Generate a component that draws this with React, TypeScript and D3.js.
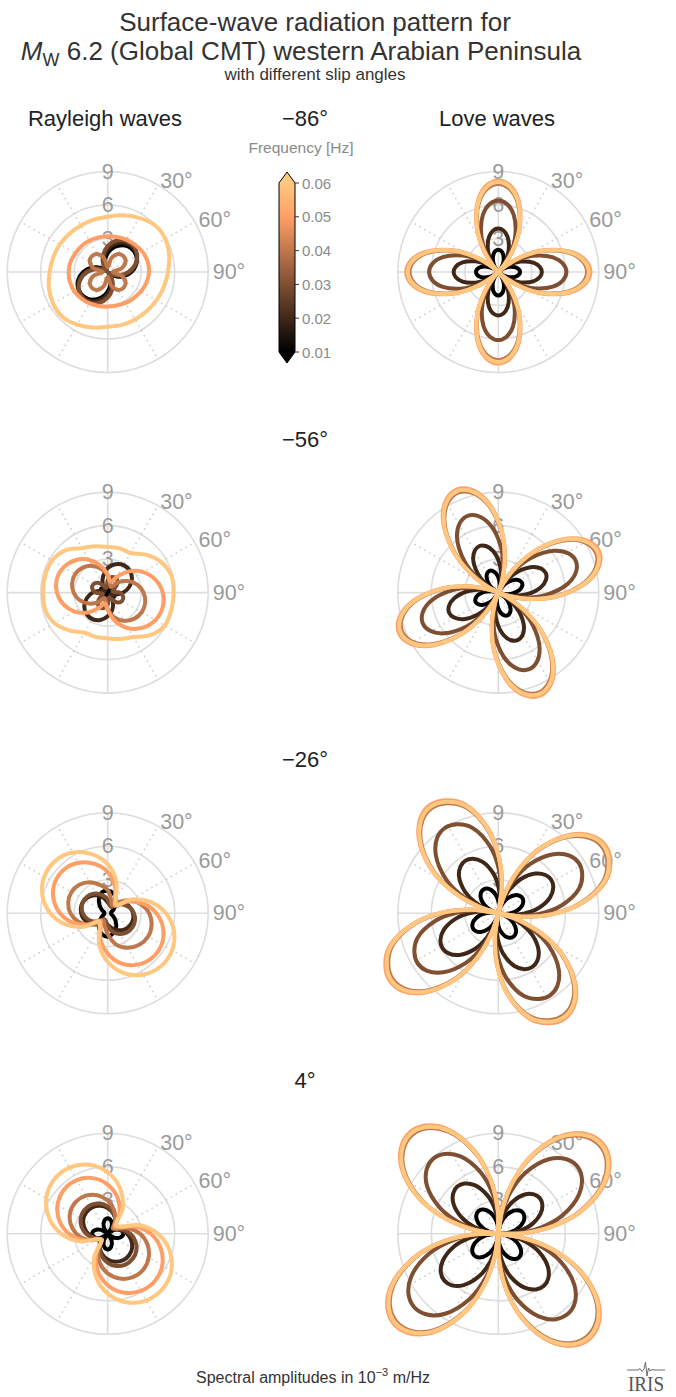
import React from 'react';
import * as d3 from 'd3';

// Frequencies drawn in every panel (Hz) and the slip angles of the four rows
const frequencies = [0.01, 0.02, 0.03, 0.04, 0.05, 0.06];
const slipAngles = [-86, -56, -26, 4];
const ringTicks = [3, 6, 9];
const angleTickLabels = [30, 60, 90];
const gridAngles = [0, 30, 60, 90, 120, 150, 180, 210, 240, 270, 300, 330];
const colorbarTicks = [0.01, 0.02, 0.03, 0.04, 0.05, 0.06];

// Azimuths (deg, clockwise from north) of the Rayleigh amplitude samples
const rayleighAzimuth = [0, 15, 30, 45, 60, 75, 90, 105, 120, 135, 150, 165, 180, 195, 210, 225, 240, 255, 270, 285, 300, 315, 330, 345];

// Azimuths of the Love amplitude samples, one set per slip angle (denser near lobe tips and nodes)
const loveAzimuthSlipM86 = [-45, -40, -33, -25, -15, -7, 0, 7, 15, 25, 33, 40, 45, 50, 57, 65, 75, 83, 90, 97, 105, 115, 123, 130, 135, 140, 147, 155, 165, 173, 180, 187, 195, 205, 213, 220, 225, 230, 237, 245, 255, 263, 270, 277, 285, 295, 303, 310];
const loveAzimuthSlipM56 = [-67, -62, -55, -47, -37, -29, -22, -15, -7, 3, 11, 18, 23, 28, 35, 43, 53, 61, 68, 75, 83, 93, 101, 108, 113, 118, 125, 133, 143, 151, 158, 165, 173, 183, 191, 198, 203, 208, 215, 223, 233, 241, 248, 255, 263, 273, 281, 288];
const loveAzimuthSlipM26 = [-77, -72, -65, -57, -47, -39, -32, -25, -17, -7, 1, 8, 13, 18, 25, 33, 43, 51, 58, 65, 73, 83, 91, 98, 103, 108, 115, 123, 133, 141, 148, 155, 163, 173, 181, 188, 193, 198, 205, 213, 223, 231, 238, 245, 253, 263, 271, 278];
const loveAzimuthSlip4 = [-86, -81, -74, -66, -56, -48, -41, -34, -26, -16, -8, -1, 4, 9, 16, 24, 34, 42, 49, 56, 64, 74, 82, 89, 94, 99, 106, 114, 124, 132, 139, 146, 154, 164, 172, 179, 184, 189, 196, 204, 214, 222, 229, 236, 244, 254, 262, 269];

// Rayleigh spectral amplitudes (10^-3 m/Hz), one row per frequency
const rayleighSlipM86 = [
  [1.69, 2.31, 2.77, 2.99, 2.94, 2.64, 2.12, 1.46, 0.74, 0.13, 0.32, 1.01, 1.75, 2.39, 2.86, 3.08, 3.04, 2.73, 2.19, 1.51, 0.77, 0.13, 0.31, 0.98],
  [2.01, 2.61, 3.01, 3.15, 3.01, 2.61, 2.01, 1.28, 0.54, 0.1, 0.54, 1.28, 2.01, 2.61, 3.01, 3.15, 3.01, 2.61, 2.01, 1.28, 0.54, 0.1, 0.54, 1.28],
  [2.33, 2.9, 3.23, 3.28, 3.05, 2.54, 1.86, 1.08, 0.34, 0.14, 0.82, 1.6, 2.3, 2.86, 3.19, 3.23, 3.0, 2.51, 1.83, 1.06, 0.33, 0.14, 0.81, 1.58],
  [0.45, 1.3, 1.85, 2.0, 1.85, 1.3, 0.45, 1.3, 1.85, 2.0, 1.85, 1.3, 0.45, 1.3, 1.85, 2.0, 1.85, 1.3, 0.45, 1.3, 1.85, 2.0, 1.85, 1.3],
  [3.2, 3.25, 3.35, 3.45, 3.6, 3.7, 3.7, 3.6, 3.45, 3.3, 3.2, 3.1, 3.1, 3.15, 3.25, 3.35, 3.45, 3.5, 3.5, 3.45, 3.35, 3.3, 3.25, 3.2],
  [4.95, 5.25, 5.6, 5.95, 5.95, 5.7, 5.4, 5.2, 5.05, 4.95, 4.9, 4.9, 4.9, 5.15, 5.45, 5.7, 5.65, 5.45, 5.2, 5.05, 4.95, 4.85, 4.8, 4.85],
];
const rayleighSlipM56 = [
  [0.29, 0.58, 0.7, 0.58, 0.29, 0, 0.29, 0.58, 0.7, 0.58, 0.29, 0, 0.29, 0.58, 0.7, 0.58, 0.29, 0, 0.29, 0.58, 0.7, 0.58, 0.29, 0],
  [2.2, 2.63, 2.84, 2.79, 2.51, 2.01, 1.39, 0.71, 0.3, 0.4, 0.93, 1.6, 2.12, 2.54, 2.74, 2.7, 2.42, 1.94, 1.34, 0.68, 0.3, 0.4, 0.9, 1.55],
  [1.1, 1.44, 1.49, 1.25, 0.71, 0.44, 1.1, 1.44, 1.49, 1.25, 0.71, 0.44, 1.1, 1.44, 1.49, 1.25, 0.71, 0.44, 1.1, 1.44, 1.49, 1.25, 0.71, 0.44],
  [1.56, 0.79, 0.58, 1.3, 2.06, 2.73, 3.21, 3.48, 3.52, 3.33, 2.91, 2.3, 1.48, 0.75, 0.55, 1.24, 1.96, 2.6, 3.05, 3.3, 3.35, 3.16, 2.76, 2.19],
  [1.64, 1.0, 1.64, 2.69, 3.68, 4.44, 4.93, 5.1, 4.93, 4.44, 3.68, 2.69, 1.56, 1.0, 1.56, 2.51, 3.4, 4.1, 4.55, 4.71, 4.55, 4.1, 3.4, 2.51],
  [4.1, 4.1, 4.1, 4.8, 5.5, 5.9, 5.9, 5.9, 5.9, 5.4, 4.6, 4.3, 4.1, 4.1, 4.15, 4.8, 5.5, 5.8, 5.8, 5.8, 5.75, 5.35, 4.6, 4.3],
];
const rayleighSlipM26 = [
  [2.0, 1.87, 1.5, 1.0, 0.58, 0.33, 0.3, 0.33, 0.58, 1.0, 1.5, 1.87, 2.1, 1.95, 1.56, 1.04, 0.6, 0.33, 0.3, 0.33, 0.6, 1.04, 1.56, 1.95],
  [0.98, 0.8, 0.98, 1.36, 1.75, 2.07, 2.27, 2.34, 2.27, 2.07, 1.75, 1.36, 1.03, 0.84, 1.03, 1.43, 1.84, 2.17, 2.38, 2.46, 2.38, 2.17, 1.84, 1.43],
  [1.22, 0.74, 0.64, 1.05, 1.55, 2.01, 2.35, 2.53, 2.56, 2.43, 2.14, 1.72, 1.16, 0.7, 0.61, 1.0, 1.47, 1.91, 2.23, 2.4, 2.43, 2.31, 2.03, 1.63],
  [2.08, 1.22, 0.81, 1.44, 2.31, 3.1, 3.71, 4.07, 4.18, 4.0, 3.57, 2.91, 1.87, 1.1, 0.73, 1.3, 2.08, 2.79, 3.34, 3.66, 3.76, 3.6, 3.21, 2.62],
  [3.69, 2.5, 1.26, 0.94, 2.08, 3.31, 4.36, 5.13, 5.58, 5.64, 5.32, 4.66, 3.62, 2.45, 1.24, 0.93, 2.04, 3.24, 4.27, 5.03, 5.47, 5.53, 5.21, 4.57],
  [4.4, 2.97, 1.47, 1.07, 2.46, 3.95, 5.21, 6.14, 6.66, 6.73, 6.36, 5.56, 4.35, 2.93, 1.45, 1.06, 2.43, 3.9, 5.14, 6.05, 6.56, 6.63, 6.27, 5.48],
];
const rayleighSlip4 = [
  [1.4, 1.2, 0.7, 0.15, 0.7, 1.2, 1.4, 1.2, 0.7, 0.15, 0.7, 1.2, 1.4, 1.2, 0.7, 0.15, 0.7, 1.2, 1.4, 1.2, 0.7, 0.15, 0.7, 1.2],
  [2.31, 1.9, 1.42, 1.01, 0.93, 1.27, 1.74, 2.18, 2.53, 2.71, 2.74, 2.6, 2.31, 1.9, 1.42, 1.01, 0.93, 1.27, 1.74, 2.18, 2.53, 2.71, 2.74, 2.6],
  [2.45, 1.96, 1.38, 0.9, 0.89, 1.41, 2.03, 2.57, 2.97, 3.17, 3.18, 2.98, 2.6, 2.07, 1.45, 0.91, 0.87, 1.35, 1.92, 2.42, 2.79, 2.98, 2.99, 2.81],
  [2.98, 2.2, 1.31, 0.65, 0.92, 1.93, 2.9, 3.69, 4.24, 4.52, 4.49, 4.15, 3.55, 2.72, 1.72, 0.76, 1.08, 1.97, 2.8, 3.44, 3.87, 4.04, 3.94, 3.58],
  [4.41, 3.37, 2.1, 0.85, 1.15, 2.54, 3.86, 4.91, 5.64, 5.98, 5.91, 5.44, 4.6, 3.44, 2.05, 0.72, 0.93, 2.19, 3.45, 4.47, 5.19, 5.56, 5.55, 5.16],
  [5.51, 4.25, 2.7, 1.08, 1.3, 2.96, 4.5, 5.73, 6.58, 6.97, 6.9, 6.34, 5.36, 4.0, 2.4, 0.79, 0.97, 2.59, 4.15, 5.44, 6.35, 6.83, 6.85, 6.4],
];

// Love spectral amplitudes (10^-3 m/Hz), one row per frequency
const loveSlipM86 = [
  [0, 0.21, 0.62, 1.13, 1.66, 1.92, 2.0, 1.92, 1.66, 1.13, 0.62, 0.21, 0, 0.2, 0.61, 1.1, 1.62, 1.87, 1.95, 1.87, 1.62, 1.1, 0.61, 0.2, 0, 0.22, 0.65, 1.18, 1.74, 2.02, 2.1, 2.02, 1.74, 1.18, 0.65, 0.22, 0, 0.21, 0.62, 1.13, 1.66, 1.92, 2.0, 1.92, 1.66, 1.13, 0.62, 0.21],
  [0, 0.4, 1.21, 2.2, 3.24, 3.75, 3.9, 3.75, 3.24, 2.2, 1.21, 0.4, 0, 0.4, 1.21, 2.2, 3.24, 3.75, 3.9, 3.75, 3.24, 2.2, 1.21, 0.4, 0, 0.4, 1.21, 2.2, 3.24, 3.75, 3.9, 3.75, 3.24, 2.2, 1.21, 0.4, 0, 0.41, 1.24, 2.25, 3.32, 3.84, 4.0, 3.84, 3.32, 2.25, 1.24, 0.41],
  [0, 0.66, 1.99, 3.6, 5.31, 6.15, 6.4, 6.15, 5.31, 3.6, 1.99, 0.66, 0, 0.63, 1.9, 3.43, 5.06, 5.86, 6.1, 5.86, 5.06, 3.43, 1.9, 0.63, 0, 0.63, 1.9, 3.43, 5.06, 5.86, 6.1, 5.86, 5.06, 3.43, 1.9, 0.63, 0, 0.64, 1.93, 3.49, 5.15, 5.96, 6.2, 5.96, 5.15, 3.49, 1.93, 0.64],
  [0, 0.81, 2.46, 4.45, 6.56, 7.59, 7.9, 7.59, 6.56, 4.45, 2.46, 0.81, 0, 0.82, 2.47, 4.48, 6.6, 7.64, 7.95, 7.64, 6.6, 4.48, 2.47, 0.82, 0, 0.81, 2.46, 4.45, 6.56, 7.59, 7.9, 7.59, 6.56, 4.45, 2.46, 0.81, 0, 0.82, 2.47, 4.48, 6.6, 7.64, 7.95, 7.64, 6.6, 4.48, 2.47, 0.82],
  [0, 0.84, 2.55, 4.62, 6.81, 7.88, 8.2, 7.88, 6.81, 4.62, 2.55, 0.84, 0, 0.85, 2.57, 4.64, 6.85, 7.93, 8.25, 7.93, 6.85, 4.64, 2.57, 0.85, 0, 0.84, 2.55, 4.62, 6.81, 7.88, 8.2, 7.88, 6.81, 4.62, 2.55, 0.84, 0, 0.85, 2.57, 4.64, 6.85, 7.93, 8.25, 7.93, 6.85, 4.64, 2.57, 0.85],
  [0, 0.83, 2.5, 4.53, 6.68, 7.74, 8.05, 7.74, 6.68, 4.53, 2.5, 0.83, 0, 0.83, 2.52, 4.56, 6.72, 7.78, 8.1, 7.78, 6.72, 4.56, 2.52, 0.83, 0, 0.83, 2.5, 4.53, 6.68, 7.74, 8.05, 7.74, 6.68, 4.53, 2.5, 0.83, 0, 0.83, 2.52, 4.56, 6.72, 7.78, 8.1, 7.78, 6.72, 4.56, 2.52, 0.83],
];
const loveSlipM56 = [
  [0, 0.22, 0.65, 1.18, 1.74, 2.02, 2.1, 2.02, 1.74, 1.18, 0.65, 0.22, 0, 0.24, 0.72, 1.29, 1.91, 2.21, 2.3, 2.21, 1.91, 1.29, 0.72, 0.24, 0, 0.23, 0.68, 1.24, 1.83, 2.11, 2.2, 2.11, 1.83, 1.24, 0.68, 0.23, 0, 0.23, 0.68, 1.24, 1.83, 2.11, 2.2, 2.11, 1.83, 1.24, 0.68, 0.23],
  [0, 0.46, 1.4, 2.53, 3.74, 4.32, 4.5, 4.32, 3.74, 2.53, 1.4, 0.46, 0, 0.47, 1.43, 2.59, 3.82, 4.42, 4.6, 4.42, 3.82, 2.59, 1.43, 0.47, 0, 0.47, 1.43, 2.59, 3.82, 4.42, 4.6, 4.42, 3.82, 2.59, 1.43, 0.47, 0, 0.49, 1.48, 2.68, 3.95, 4.57, 4.76, 4.57, 3.95, 2.68, 1.48, 0.49],
  [0, 0.76, 2.3, 4.17, 6.14, 7.11, 7.4, 7.11, 6.14, 4.17, 2.3, 0.76, 0, 0.77, 2.33, 4.22, 6.23, 7.21, 7.5, 7.21, 6.23, 4.22, 2.33, 0.77, 0, 0.76, 2.3, 4.17, 6.14, 7.11, 7.4, 7.11, 6.14, 4.17, 2.3, 0.76, 0, 0.75, 2.27, 4.11, 6.06, 7.02, 7.3, 7.02, 6.06, 4.11, 2.27, 0.75],
  [0, 0.99, 3.0, 5.43, 8.01, 9.27, 9.65, 9.27, 8.01, 5.43, 3.0, 0.99, 0, 0.97, 2.94, 5.32, 7.84, 9.08, 9.45, 9.08, 7.84, 5.32, 2.94, 0.97, 0, 0.99, 3.0, 5.43, 8.01, 9.27, 9.65, 9.27, 8.01, 5.43, 3.0, 0.99, 0, 0.96, 2.89, 5.24, 7.72, 8.94, 9.3, 8.94, 7.72, 5.24, 2.89, 0.96],
  [0, 1.02, 3.09, 5.6, 8.26, 9.56, 9.95, 9.56, 8.26, 5.6, 3.09, 1.02, 0, 1.0, 3.03, 5.49, 8.09, 9.37, 9.75, 9.37, 8.09, 5.49, 3.03, 1.0, 0, 1.02, 3.09, 5.6, 8.26, 9.56, 9.95, 9.56, 8.26, 5.6, 3.09, 1.02, 0, 0.99, 2.99, 5.4, 7.97, 9.23, 9.6, 9.23, 7.97, 5.4, 2.99, 0.99],
  [0, 1.01, 3.05, 5.52, 8.13, 9.42, 9.8, 9.42, 8.13, 5.52, 3.05, 1.01, 0, 0.99, 2.99, 5.4, 7.97, 9.23, 9.6, 9.23, 7.97, 5.4, 2.99, 0.99, 0, 1.01, 3.05, 5.52, 8.13, 9.42, 9.8, 9.42, 8.13, 5.52, 3.05, 1.01, 0, 0.97, 2.94, 5.32, 7.84, 9.08, 9.45, 9.08, 7.84, 5.32, 2.94, 0.97],
];
const loveSlipM26 = [
  [0, 0.44, 1.02, 1.61, 2.17, 2.43, 2.5, 2.43, 2.17, 1.61, 1.02, 0.44, 0, 0.44, 1.04, 1.64, 2.21, 2.47, 2.55, 2.47, 2.21, 1.64, 1.04, 0.44, 0, 0.44, 1.02, 1.61, 2.17, 2.43, 2.5, 2.43, 2.17, 1.61, 1.02, 0.44, 0, 0.46, 1.08, 1.7, 2.29, 2.57, 2.65, 2.57, 2.29, 1.7, 1.08, 0.46],
  [0, 0.97, 2.26, 3.57, 4.81, 5.38, 5.55, 5.38, 4.81, 3.57, 2.26, 0.97, 0, 0.97, 2.28, 3.6, 4.85, 5.43, 5.6, 5.43, 4.85, 3.6, 2.28, 0.97, 0, 0.99, 2.32, 3.67, 4.94, 5.53, 5.7, 5.53, 4.94, 3.67, 2.32, 0.99, 0, 1.03, 2.4, 3.79, 5.11, 5.72, 5.9, 5.72, 5.11, 3.79, 2.4, 1.03],
  [0, 1.35, 3.42, 5.58, 7.65, 8.69, 9.0, 8.78, 8.01, 6.03, 3.87, 1.8, 0, 1.28, 3.23, 5.27, 7.23, 8.2, 8.5, 8.29, 7.57, 5.7, 3.66, 1.7, 0, 1.31, 3.31, 5.39, 7.4, 8.4, 8.7, 8.48, 7.74, 5.83, 3.74, 1.74, 0, 1.28, 3.23, 5.27, 7.23, 8.2, 8.5, 8.29, 7.57, 5.7, 3.66, 1.7],
  [0, 1.67, 4.24, 6.91, 9.48, 10.76, 11.15, 10.87, 9.92, 7.47, 4.79, 2.23, 0, 1.66, 4.2, 6.85, 9.39, 10.66, 11.05, 10.77, 9.83, 7.4, 4.75, 2.21, 0, 1.63, 4.12, 6.73, 9.22, 10.47, 10.85, 10.58, 9.66, 7.27, 4.67, 2.17, 0, 1.67, 4.24, 6.91, 9.48, 10.76, 11.15, 10.87, 9.92, 7.47, 4.79, 2.23],
  [0, 1.72, 4.35, 7.1, 9.73, 11.05, 11.45, 11.16, 10.19, 7.67, 4.92, 2.29, 0, 1.7, 4.31, 7.04, 9.65, 10.95, 11.35, 11.07, 10.1, 7.6, 4.88, 2.27, 0, 1.67, 4.24, 6.91, 9.48, 10.76, 11.15, 10.87, 9.92, 7.47, 4.79, 2.23, 0, 1.72, 4.35, 7.1, 9.73, 11.05, 11.45, 11.16, 10.19, 7.67, 4.92, 2.29],
  [0, 1.7, 4.29, 7.01, 9.61, 10.9, 11.3, 11.02, 10.06, 7.57, 4.86, 2.26, 0, 1.68, 4.26, 6.94, 9.52, 10.81, 11.2, 10.92, 9.97, 7.5, 4.82, 2.24, 0, 1.65, 4.18, 6.82, 9.35, 10.62, 11.0, 10.73, 9.79, 7.37, 4.73, 2.2, 0, 1.7, 4.29, 7.01, 9.61, 10.9, 11.3, 11.02, 10.06, 7.57, 4.86, 2.26],
];
const loveSlip4 = [
  [0, 0.47, 1.1, 1.74, 2.34, 2.62, 2.7, 2.62, 2.34, 1.74, 1.1, 0.47, 0, 0.5, 1.18, 1.86, 2.51, 2.81, 2.9, 2.81, 2.51, 1.86, 1.18, 0.5, 0, 0.49, 1.14, 1.8, 2.42, 2.72, 2.8, 2.72, 2.42, 1.8, 1.14, 0.49, 0, 0.5, 1.18, 1.86, 2.51, 2.81, 2.9, 2.81, 2.51, 1.86, 1.18, 0.5],
  [0, 0.97, 2.28, 3.6, 4.85, 5.43, 5.6, 5.43, 4.85, 3.6, 2.28, 0.97, 0, 0.85, 1.99, 3.15, 4.24, 4.75, 4.9, 4.75, 4.24, 3.15, 1.99, 0.85, 0, 1.08, 2.52, 3.99, 5.37, 6.01, 6.2, 6.01, 5.37, 3.99, 2.52, 1.08, 0, 1.11, 2.6, 4.12, 5.54, 6.21, 6.4, 6.21, 5.54, 4.12, 2.6, 1.11],
  [0, 1.55, 3.62, 5.72, 7.71, 8.63, 8.9, 8.63, 7.71, 5.72, 3.62, 1.55, 0, 1.62, 3.79, 5.98, 8.05, 9.02, 9.3, 9.02, 8.05, 5.98, 3.79, 1.62, 0, 1.65, 3.87, 6.11, 8.23, 9.22, 9.5, 9.22, 8.23, 6.11, 3.87, 1.65, 0, 1.74, 4.07, 6.43, 8.66, 9.7, 10.0, 9.7, 8.66, 6.43, 4.07, 1.74],
  [0, 2.04, 4.78, 7.56, 10.18, 11.4, 11.75, 11.4, 10.18, 7.56, 4.78, 2.04, 0, 2.1, 4.9, 7.75, 10.44, 11.69, 12.05, 11.69, 10.44, 7.75, 4.9, 2.1, 0, 2.11, 4.95, 7.81, 10.52, 11.79, 12.15, 11.79, 10.52, 7.81, 4.95, 2.11, 0, 2.1, 4.9, 7.75, 10.44, 11.69, 12.05, 11.69, 10.44, 7.75, 4.9, 2.1],
  [0, 2.1, 4.9, 7.75, 10.44, 11.69, 12.05, 11.69, 10.44, 7.75, 4.9, 2.1, 0, 2.15, 5.03, 7.94, 10.7, 11.98, 12.35, 11.98, 10.7, 7.94, 5.03, 2.15, 0, 2.17, 5.07, 8.01, 10.78, 12.08, 12.45, 12.08, 10.78, 8.01, 5.07, 2.17, 0, 2.15, 5.03, 7.94, 10.7, 11.98, 12.35, 11.98, 10.7, 7.94, 5.03, 2.15],
  [0, 2.07, 4.84, 7.65, 10.31, 11.54, 11.9, 11.54, 10.31, 7.65, 4.84, 2.07, 0, 2.12, 4.97, 7.84, 10.57, 11.83, 12.2, 11.83, 10.57, 7.84, 4.97, 2.12, 0, 2.14, 5.01, 7.91, 10.65, 11.93, 12.3, 11.93, 10.65, 7.91, 5.01, 2.14, 0, 2.12, 4.97, 7.84, 10.57, 11.83, 12.2, 11.83, 10.57, 7.84, 4.97, 2.12],
];

const rayleighBySlip = [rayleighSlipM86, rayleighSlipM56, rayleighSlipM26, rayleighSlip4];
const loveBySlip = [loveSlipM86, loveSlipM56, loveSlipM26, loveSlip4];
const loveAzimuthBySlip = [loveAzimuthSlipM86, loveAzimuthSlipM56, loveAzimuthSlipM26, loveAzimuthSlip4];

// Layout
const WIDTH = 676;
const HEIGHT = 1397;
const FONT = "'Liberation Sans', Arial, Helvetica, sans-serif";
const leftCx = 107.7;
const rightCx = 498.3;
const firstRowCy = 272;
const rowStep = 320.6;
const outerRadius = 100.5;

// matplotlib "copper" map over the frequency range
const copper = d3
  .scaleLinear<string>()
  .domain([0.01, 0.05, 0.06])
  .range(['#000000', '#ff9f65', '#ffc77f'])
  .interpolate(d3.interpolateRgb);

const rScale = d3.scaleLinear().domain([0, 9]).range([0, outerRadius]);

const radialLine = d3
  .lineRadial<[number, number]>()
  .angle((d) => (d[0] * Math.PI) / 180)
  .radius((d) => rScale(d[1]))
  .curve(d3.curveCatmullRomClosed.alpha(0.5));

function fmtSigned(v: number) {
  return v < 0 ? `\u2212${Math.abs(v)}°` : `${v}°`;
}

function PolarPanel({ cx, cy, azimuth, curves }: { cx: number; cy: number; azimuth: number[]; curves: number[][] }) {
  const labelR = outerRadius + 4.5;
  return (
    <g transform={`translate(${cx},${cy})`}>
      {ringTicks.map((t) => (
        <circle key={`ring${t}`} r={rScale(t)} fill="none" stroke="#dddddd" strokeWidth={1.6} />
      ))}
      {gridAngles.map((a) => {
        const rad = (a * Math.PI) / 180;
        const solid = a % 90 === 0;
        return (
          <line
            key={`sp${a}`}
            x1={0}
            y1={0}
            x2={rScale(9) * Math.sin(rad)}
            y2={-rScale(9) * Math.cos(rad)}
            stroke={solid ? '#dddddd' : '#cfcfcf'}
            strokeWidth={1.6}
            strokeDasharray={solid ? undefined : '1.6 4'}
          />
        );
      })}
      {ringTicks.map((t) => (
        <text
          key={`rl${t}`}
          x={0}
          y={-rScale(t)}
          textAnchor="middle"
          dominantBaseline="central"
          fontSize={21.5}
          fill="#9a9a9a"
          fontFamily={FONT}
        >
          {t}
        </text>
      ))}
      {angleTickLabels.map((a) => {
        const rad = (a * Math.PI) / 180;
        return (
          <text
            key={`al${a}`}
            x={labelR * Math.sin(rad)}
            y={-labelR * Math.cos(rad)}
            textAnchor="start"
            dominantBaseline="central"
            fontSize={21.5}
            fill="#9a9a9a"
            fontFamily={FONT}
          >
            {`${a}°`}
          </text>
        );
      })}
      {curves.map((radii, i) => {
        const pts = azimuth.map((a, k) => [a, radii[k]] as [number, number]);
        return (
          <path
            key={`c${i}`}
            d={radialLine(pts) || ''}
            fill="none"
            stroke={copper(frequencies[i])}
            strokeWidth={4}
            strokeLinejoin="round"
          />
        );
      })}
    </g>
  );
}

function Colorbar() {
  const x0 = 279;
  const w = 16;
  const y = d3.scaleLinear().domain([0.01, 0.06]).range([352, 183]);
  const tip = 11;
  const top = y(0.06);
  const bottom = y(0.01);
  const outline = `M${x0},${top} L${x0 + w / 2},${top - tip} L${x0 + w},${top} L${x0 + w},${bottom} L${x0 + w / 2},${bottom + tip} L${x0},${bottom} Z`;
  return (
    <g>
      <defs>
        <linearGradient id="copperGrad" x1="0" y1="1" x2="0" y2="0">
          {colorbarTicks.map((s) => (
            <stop key={s} offset={(s - 0.01) / 0.05} stopColor={copper(s)} />
          ))}
        </linearGradient>
      </defs>
      <text x={301} y={153} textAnchor="middle" fontSize={15.5} fill="#8a8a8a" fontFamily={FONT}>
        Frequency [Hz]
      </text>
      <rect x={x0} y={top} width={w} height={bottom - top} fill="url(#copperGrad)" />
      <path d={`M${x0},${top} L${x0 + w / 2},${top - tip} L${x0 + w},${top} Z`} fill={copper(0.06)} />
      <path d={`M${x0},${bottom} L${x0 + w / 2},${bottom + tip} L${x0 + w},${bottom} Z`} fill={copper(0.01)} />
      <path d={outline} fill="none" stroke="#000" strokeWidth={1} />
      {colorbarTicks.map((t) => (
        <g key={t}>
          <line x1={x0 + w} x2={x0 + w + 4} y1={y(t)} y2={y(t)} stroke="#333" strokeWidth={1} />
          <text x={x0 + w + 7} y={y(t)} dominantBaseline="central" fontSize={15} fill="#8a8a8a" fontFamily={FONT}>
            {t.toFixed(2)}
          </text>
        </g>
      ))}
    </g>
  );
}

function IrisMark() {
  return (
    <g>
      <path
        d="M627,1370 L638,1370 L640,1368.5 L642,1371.5 L644,1369 L645.5,1362 L647,1376 L648.5,1368 L650,1371 L652,1369.5 L654,1370 L665,1370"
        fill="none"
        stroke="#6a6a6a"
        strokeWidth={1}
      />
      <text
        x={628}
        y={1391}
        fontSize={22}
        fontFamily="'Liberation Serif', 'DejaVu Serif', serif"
        fill="#555"
        textLength={36}
        lengthAdjust="spacingAndGlyphs"
      >
        IRIS
      </text>
    </g>
  );
}

export default function App() {
  return (
    <svg
      width={WIDTH}
      height={HEIGHT}
      viewBox={`0 0 ${WIDTH} ${HEIGHT}`}
      style={{ position: 'absolute', left: 0, top: 0, background: '#fff' }}
    >
      <rect width={WIDTH} height={HEIGHT} fill="#fff" />
      <text x={315} y={31} textAnchor="middle" fontSize={26} fill="#333" fontFamily={FONT}>
        Surface-wave radiation pattern for
      </text>
      <text x={301} y={60} textAnchor="middle" fontSize={26} fill="#333" fontFamily={FONT}>
        <tspan fontStyle="italic">M</tspan>
        <tspan fontSize={18} dy={6}>W</tspan>
        <tspan dy={-6}> 6.2 (Global CMT) western Arabian Peninsula</tspan>
      </text>
      <text x={315} y={80} textAnchor="middle" fontSize={17} fill="#333" fontFamily={FONT}>
        with different slip angles
      </text>
      <text x={105} y={126} textAnchor="middle" fontSize={22} fill="#222" fontFamily={FONT}>
        Rayleigh waves
      </text>
      <text x={497} y={126} textAnchor="middle" fontSize={22} fill="#222" fontFamily={FONT}>
        Love waves
      </text>

      {slipAngles.map((s, i) => {
        const cy = firstRowCy + i * rowStep;
        return (
          <g key={s}>
            <text x={305} y={cy - 146} textAnchor="middle" fontSize={22} fill="#222" fontFamily={FONT}>
              {fmtSigned(s)}
            </text>
            <PolarPanel cx={leftCx} cy={cy} azimuth={rayleighAzimuth} curves={rayleighBySlip[i]} />
            <PolarPanel cx={rightCx} cy={cy} azimuth={loveAzimuthBySlip[i]} curves={loveBySlip[i]} />
          </g>
        );
      })}

      <Colorbar />

      <text x={313} y={1383} textAnchor="middle" fontSize={16} fill="#333" fontFamily={FONT}>
        Spectral amplitudes in 10
        <tspan fontSize={11} dy={-7}>{'\u22123'}</tspan>
        <tspan dy={7}> m/Hz</tspan>
      </text>
      <IrisMark />
    </svg>
  );
}
